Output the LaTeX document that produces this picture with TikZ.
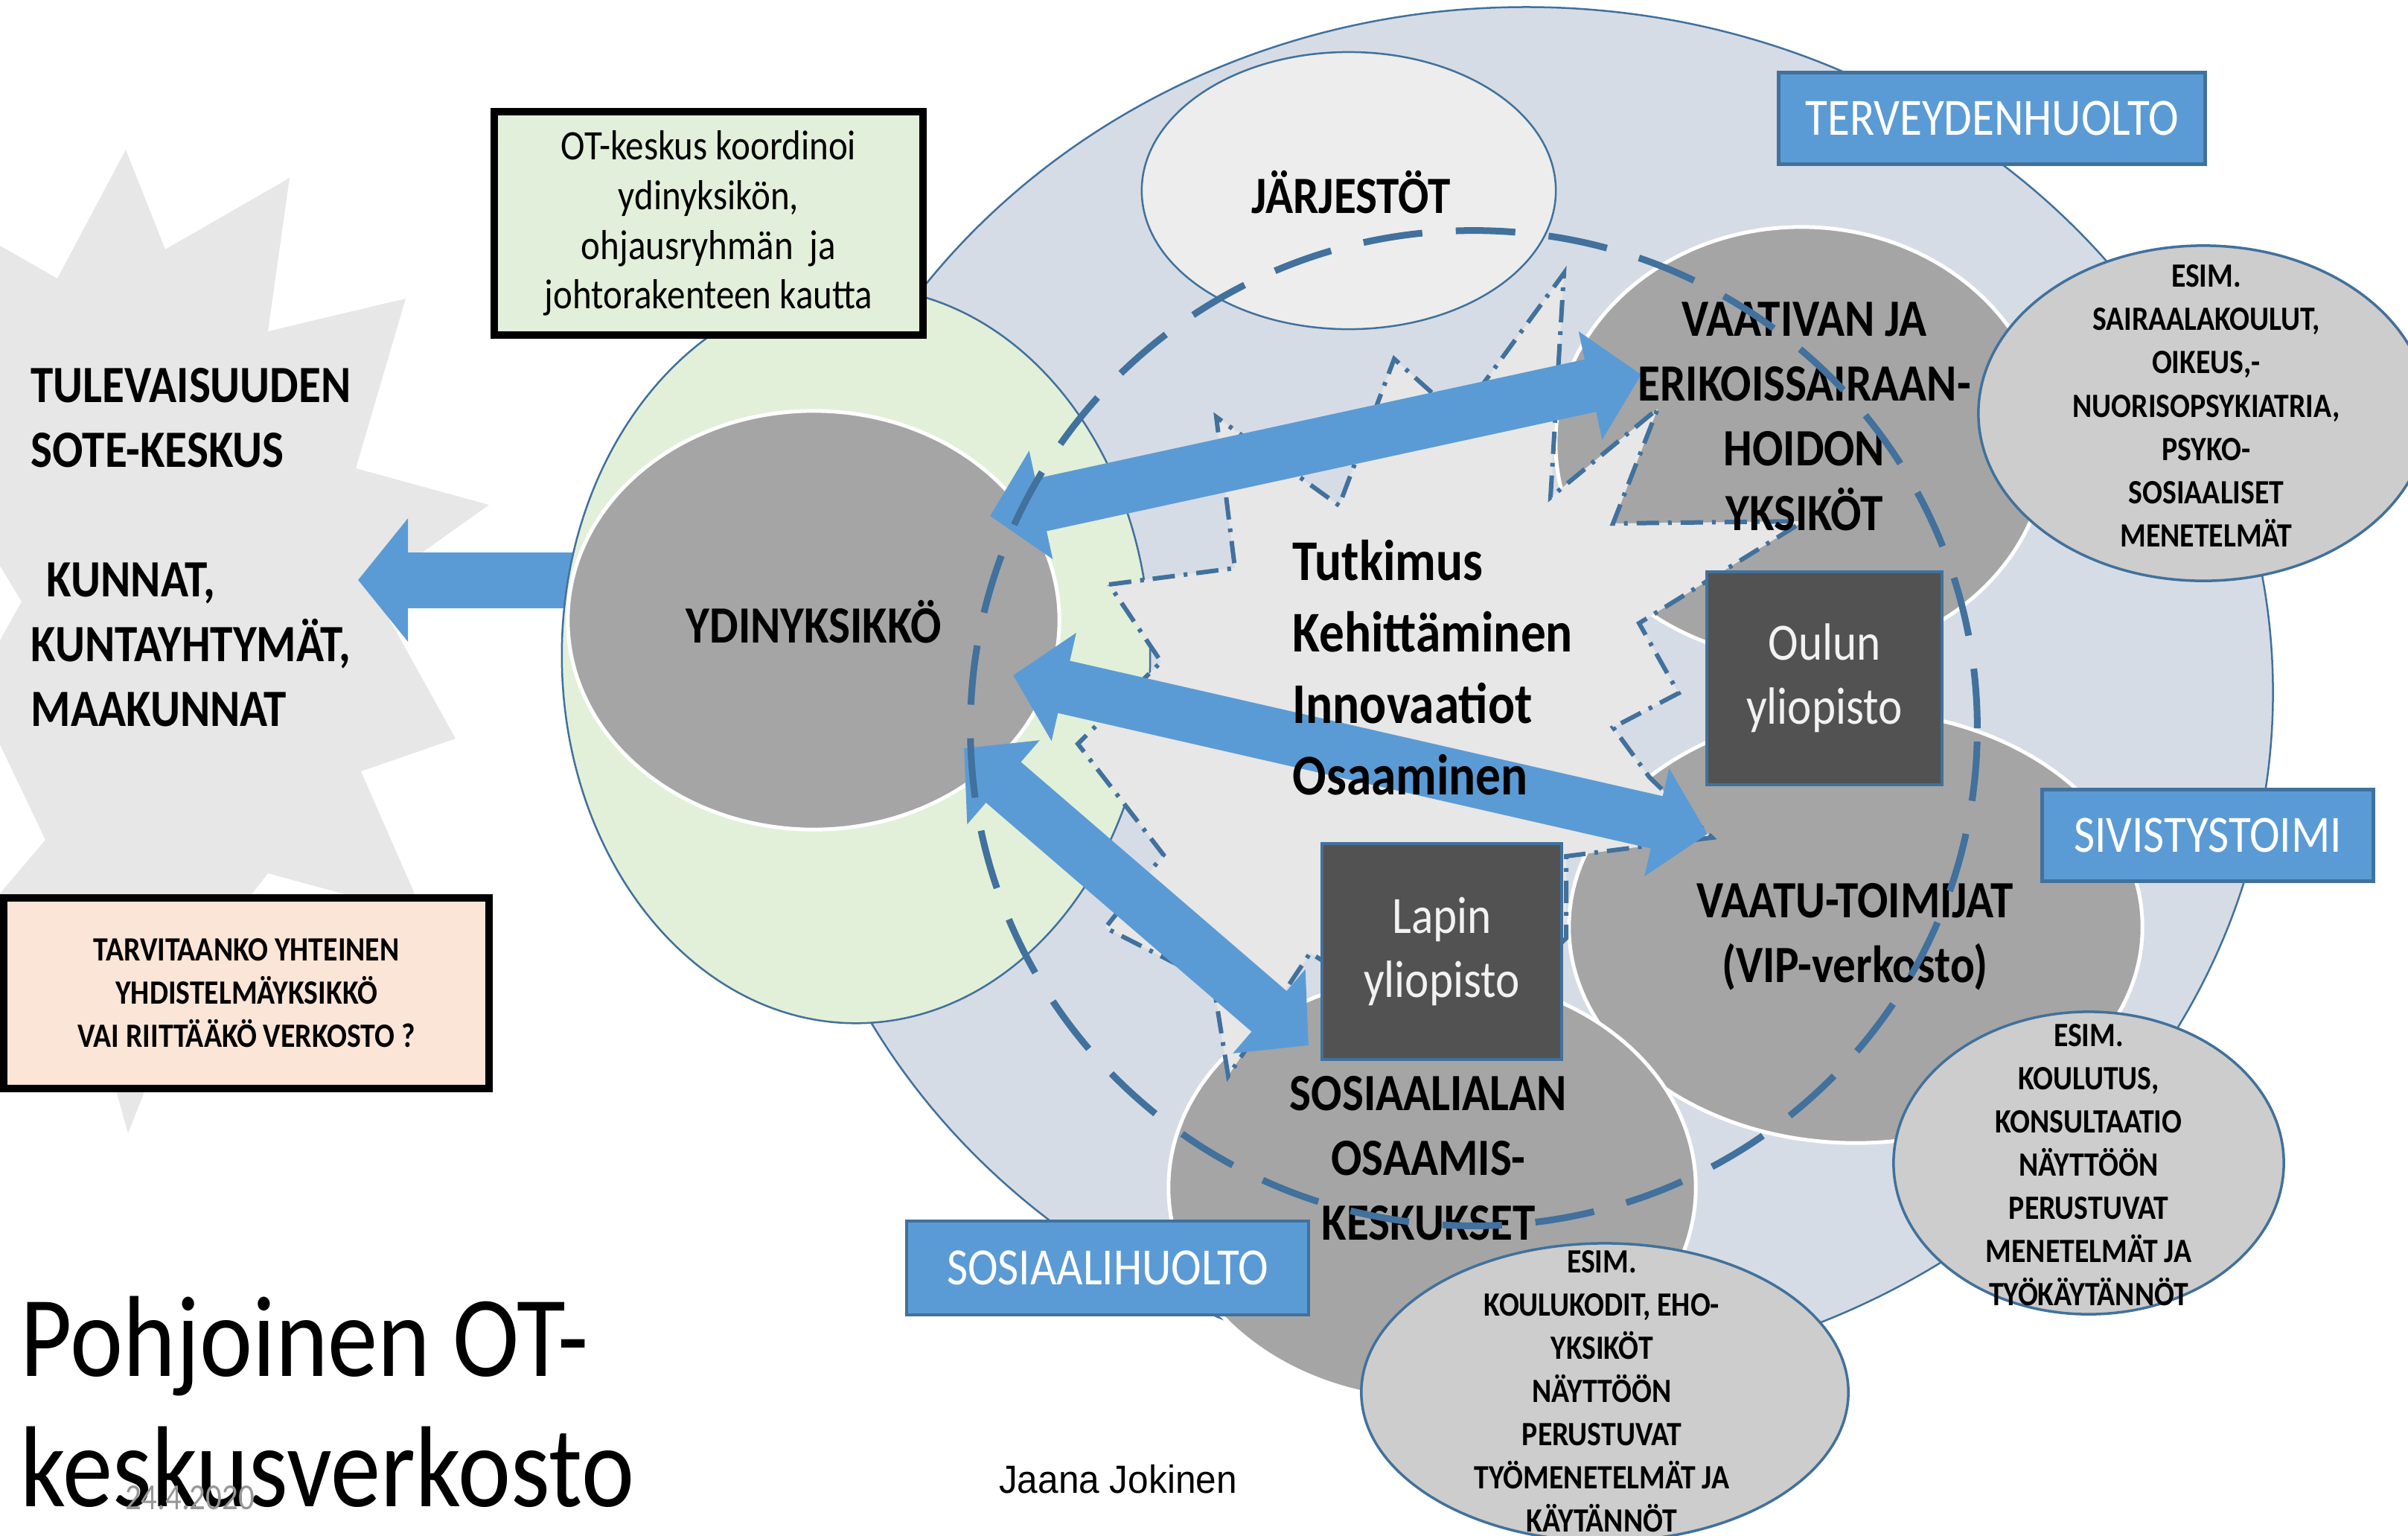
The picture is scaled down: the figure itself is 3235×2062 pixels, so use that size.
\documentclass[tikz,border=0pt]{standalone}
\usepackage{fontspec}
\setmainfont{Carlito}[FakeStretch=0.87]
\newfontfamily\arialf{Liberation Sans}[FakeStretch=0.94]
\usetikzlibrary{arrows.meta,shapes.geometric}
\definecolor{steel}{HTML}{41719C}
\definecolor{bluefill}{HTML}{5B9BD5}
\definecolor{bgring}{HTML}{D6DCE5}
\definecolor{greenfill}{HTML}{E2F0D9}
\definecolor{lightgrayfill}{HTML}{E7E7E7}
\definecolor{midgray}{HTML}{A5A5A5}
\definecolor{esimgray}{HTML}{CDCDCD}
\definecolor{darkfill}{HTML}{525252}
\definecolor{jarjfill}{HTML}{EDEDED}
\definecolor{otgreen}{HTML}{E2EFDA}
\definecolor{peach}{HTML}{FBE5D6}
\definecolor{dategray}{HTML}{979797}
\begin{document}
\begin{tikzpicture}[x=0.01cm, y=-0.01cm,
  shapeonly/.style={inner sep=0pt, outer sep=0pt},
  graycirc/.style={ellipse, shapeonly, fill=midgray, draw=white, line width=0.05cm},
  esimcirc/.style={ellipse, shapeonly, fill=esimgray, draw=steel, line width=0.035cm},
  bluebox/.style={rectangle, shapeonly, fill=bluefill, draw=steel, line width=0.045cm, text=white, font=\fontsize{20}{24.75}\selectfont},
  unibox/.style={rectangle, shapeonly, fill=darkfill, draw=steel, line width=0.035cm, text=white!95!black, align=center, font=\fontsize{20}{24.5}\selectfont},
  notebox/.style={rectangle, shapeonly, draw=black, line width=0.1cm, align=center},
  bigtext/.style={inner sep=0pt, align=center, font=\bfseries\fontsize{20}{24.75}\selectfont},
  esimtext/.style={inner sep=0pt, align=center, font=\bfseries\fontsize{13}{16.5}\selectfont},
  dblarrow/.style={draw=bluefill, line width=0.72cm, arrows={Triangle[length=0.7cm,width=1.45cm]-Triangle[length=0.7cm,width=1.45cm]}},
  starline/.style={fill=lightgrayfill, draw=steel, line width=0.06cm, dash pattern=on 0.3cm off 0.12cm on 0.05cm off 0.12cm},
]
\useasboundingbox (0,0) rectangle (3235,2062);
\clip (0,0) rectangle (3235,2062);

% left starburst
\fill[lightgrayfill] (0,330) -- (77,374) -- (169,201) -- (222,335) -- (389,239) -- (360,445) -- (545,401) -- (478,629) -- (657,678) -- (500,790) -- (612,992) -- (485,1036) -- (570,1230) -- (360,1173) -- (260,1300) -- (172,1522) -- (110,1300) -- (0,1200) -- (61,1128) -- (0,1000) -- (0,860) -- (29,808) -- (0,760) -- cycle;

% left arrow
\coordinate (lstart) at (790,779);
\coordinate (ltip) at (481,779);
\draw[draw=bluefill, line width=0.75cm, arrows={-Triangle[length=0.67cm,width=1.62cm]}] (lstart) -- (ltip);

% big rings
\node[ellipse, shapeonly, fill=bgring, draw=steel, line width=0.025cm, minimum width=20.06cm, minimum height=18.4cm] (bigring) at (2050,930) {};
\node[ellipse, shapeonly, fill=greenfill, draw=steel, line width=0.025cm, minimum width=7.9cm, minimum height=9.88cm] (greenring) at (1150,880) {};

% OT box
\node[notebox, fill=otgreen, minimum width=5.76cm, minimum height=2.99cm, font=\fontsize{16}{19}\selectfont] (otbox) at (952,300) {OT-keskus koordinoi\\ydinyksikön,\\ohjausryhmän\ \ ja\\johtorakenteen kautta};

% shapes
\node[graycirc, minimum width=6.6cm, minimum height=5.62cm] (ydin) at (1093,833) {};
\node[ellipse, shapeonly, fill=jarjfill, draw=steel, line width=0.025cm, minimum width=5.56cm, minimum height=3.72cm] (jarj) at (1812,256) {};
\node[graycirc, minimum width=6.6cm, minimum height=5.8cm] (vaativan) at (2420,595) {};
\node[graycirc, minimum width=7.7cm, minimum height=5.8cm] (vaatu) at (2493,1245) {};
\node[graycirc, minimum width=7.08cm, minimum height=5.7cm] (sosiaali) at (1924,1595) {};
\node[esimcirc, minimum width=6.04cm, minimum height=4.5cm] (esim1) at (2960,555) {};
\node[esimcirc, minimum width=5.24cm, minimum height=4.06cm] (esim2) at (2806,1562) {};
\node[esimcirc, minimum width=6.54cm, minimum height=4.0cm] (esim3) at (2156,1870) {};

% central star
\draw[starline] (1490,785) -- (1659,763) -- (1634,560) -- (1799,679) -- (1873,482) -- (1960,560) -- (2101,367) -- (2083,668) -- (2227,549) -- (2167,703) -- (2423,700) -- (2202,837) -- (2255,931) -- (2167,977) -- (2216,1044) -- (2300,1125) -- (2104,1150) -- (2104,1260) -- (1960,1400) -- (1760,1280) -- (1650,1445) -- (1630,1320) -- (1485,1246) -- (1563,1148) -- (1448,999) -- (1560,889) -- cycle;

% boxes
\node[unibox, minimum width=3.16cm, minimum height=2.86cm] (oulu) at (2451,911) {Oulun\\yliopisto};
\node[unibox, minimum width=3.22cm, minimum height=2.9cm] (lappi) at (1937,1278) {Lapin\\yliopisto};
\node[bluebox, minimum width=5.73cm, minimum height=1.23cm] (terv) at (2676,159) {TERVEYDENHUOLTO};
\node[bluebox, minimum width=4.45cm, minimum height=1.23cm] (sivis) at (2966,1122) {SIVISTYSTOIMI};
\node[bluebox, minimum width=5.4cm, minimum height=1.26cm] (sosh) at (1488,1703) {SOSIAALIHUOLTO};

% double arrows
\coordinate (a1s) at (1330,693);
\coordinate (a1e) at (2205,503);
\coordinate (a2s) at (1361,907);
\coordinate (a2e) at (2294,1120);
\coordinate (a3s) at (1295,1005);
\coordinate (a3e) at (1758,1404);
\draw[dblarrow] (a1s) -- (a1e);
\draw[dblarrow] (a2s) -- (a2e);
\draw[dblarrow] (a3s) -- (a3e);

% texts
\node[bigtext, align=left, anchor=west] (sotetext) at (41,735) {TULEVAISUUDEN\\SOTE-KESKUS\\[24.75pt]\hspace*{0.3em}KUNNAT,\\KUNTAYHTYMÄT,\\MAAKUNNAT};
\node[bigtext] (ydintext) at (1093,835) {YDINYKSIKKÖ};
\node[bigtext] (jarjtext) at (1815,258) {JÄRJESTÖT};
\node[bigtext] (vaativantext) at (2424,559) {VAATIVAN JA\\ERIKOISSAIRAAN-\\HOIDON\\YKSIKÖT};
\node[bigtext] (vaatutext) at (2492,1258) {VAATU-TOIMIJAT\\(VIP-verkosto)};
\node[bigtext] (sostext) at (1919,1556) {SOSIAALIALAN\\OSAAMIS-\\KESKUKSET};
\node[inner sep=0pt, align=left, anchor=west, font=\bfseries\fontsize{22}{27.3}\selectfont] (tutk) at (1736,897) {Tutkimus\\Kehittäminen\\Innovaatiot\\Osaaminen};
\node[esimtext] (esim1text) at (2964,545) {ESIM.\\SAIRAALAKOULUT,\\OIKEUS,-\\NUORISOPSYKIATRIA,\\PSYKO-\\SOSIAALISET\\MENETELMÄT};
\node[esimtext] (esim2text) at (2806,1565) {ESIM.\\KOULUTUS,\\KONSULTAATIO\\NÄYTTÖÖN\\PERUSTUVAT\\MENETELMÄT JA\\TYÖKÄYTÄNNÖT};
\node[esimtext] (esim3text) at (2152,1869) {ESIM.\\KOULUKODIT, EHO-\\YKSIKÖT\\NÄYTTÖÖN\\PERUSTUVAT\\TYÖMENETELMÄT JA\\KÄYTÄNNÖT};

% dashed ring
\node[ellipse, shapeonly, draw=steel, line width=0.09cm, dash pattern=on 0.8cm off 0.45cm, minimum width=13.52cm, minimum height=13.36cm] (dashring) at (1980,978) {};

% question box
\node[notebox, fill=peach, minimum width=6.52cm, minimum height=2.55cm, font=\bfseries\fontsize{13}{16.5}\selectfont] (qbox) at (331,1334) {TARVITAANKO YHTEINEN\\YHDISTELMÄYKSIKKÖ\\VAI RIITTÄÄKÖ VERKOSTO ?};

% title and footer
\node[inner sep=0pt, anchor=base west, font=\fontsize{44}{49}\selectfont] (title1) at (27,1848) {Pohjoinen OT-};
\node[inner sep=0pt, anchor=base west, font=\fontsize{44}{49}\selectfont] (title2) at (27,2023) {keskusverkosto};
\node[inner sep=0pt, text=dategray, font=\fontsize{14}{16}\selectfont] (date) at (255,2012) {24.4.2020};
\node[inner sep=0pt, font=\arialf\fontsize{15}{18}\selectfont] (author) at (1502,1987) {Jaana Jokinen};
\end{tikzpicture}
\end{document}
